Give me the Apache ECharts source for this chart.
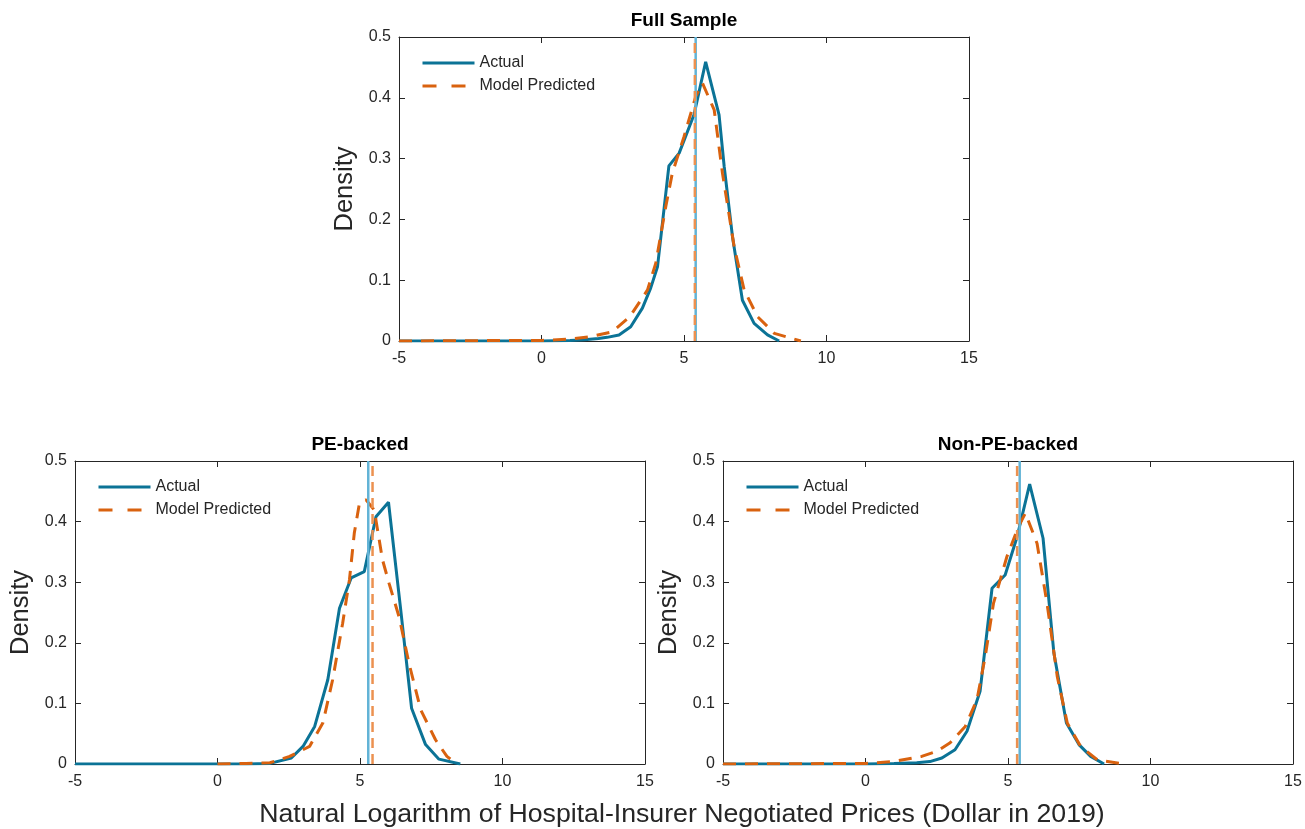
<html lang="en">
<head>
    <meta charset="UTF-8">
    <title>Density of negotiated prices</title>
    <script src="https://cdn.jsdelivr.net/npm/echarts@6/dist/echarts.min.js"></script>
    <style>
        body { margin: 0; background: #ffffff; }
        #container { width: 1305px; height: 829px; }
    </style>
</head>
<body>
<div id="container"></div>
<script>
    // ---- data ----
    var xTicks = [-5, 0, 5, 10, 15];
    var panelTitles = ['Full Sample', 'PE-backed', 'Non-PE-backed'];

    // Full sample
    var fullActualX = [-5, 0, 1.0, 1.5, 2.0, 2.3, 2.72, 3.13, 3.54, 3.83, 4.07, 4.47, 4.83, 5.35, 5.76, 6.23, 6.41, 6.70, 7.05, 7.46, 7.93, 8.34];
    var fullActualY = [0, 0, 0.001, 0.002, 0.004, 0.006, 0.010, 0.0235, 0.054, 0.087, 0.122, 0.288, 0.309, 0.372, 0.459, 0.372, 0.287, 0.172, 0.067, 0.029, 0.010, 0];
    var fullPredX = [-5, 0, 1.0, 1.7, 2.48, 3.1, 3.72, 4.01, 4.36, 4.59, 5.0, 5.41, 5.65, 6.06, 6.35, 6.76, 7.11, 7.58, 8.17, 9.1];
    var fullPredY = [0, 0.001, 0.003, 0.007, 0.015, 0.04, 0.084, 0.128, 0.221, 0.276, 0.336, 0.402, 0.424, 0.38, 0.276, 0.155, 0.084, 0.04, 0.0126, 0];
    var fullMeans = [5.41, 5.38];   // actual, predicted

    // PE-backed
    var peActualX = [-5, 0, 1.0, 1.84, 2.59, 3.0, 3.41, 3.87, 4.28, 4.69, 5.15, 5.56, 6.0, 6.43, 6.81, 7.30, 7.77, 8.52];
    var peActualY = [0, 0, 0, 0.001, 0.0099, 0.029, 0.062, 0.139, 0.257, 0.307, 0.3175, 0.408, 0.432, 0.254, 0.092, 0.032, 0.008, 0];
    var pePredX = [0, 1.0, 1.84, 2.53, 3.23, 3.70, 4.04, 4.39, 4.63, 4.80, 4.98, 5.21, 5.50, 5.79, 6.02, 6.37, 6.72, 7.13, 7.65, 8.05, 8.40];
    var pePredY = [0, 0.001, 0.002, 0.0125, 0.029, 0.068, 0.139, 0.232, 0.304, 0.381, 0.43, 0.436, 0.419, 0.337, 0.298, 0.243, 0.166, 0.0895, 0.04, 0.0125, 0];
    var peMeans = [5.29, 5.44];

    // Non-PE-backed
    var nonPeActualX = [-5, 0, 1.0, 1.8, 2.26, 2.68, 3.14, 3.56, 4.02, 4.44, 4.90, 5.32, 5.76, 6.23, 6.61, 7.05, 7.49, 7.90, 8.37];
    var nonPeActualY = [0, 0, 0.001, 0.002, 0.004, 0.0099, 0.0236, 0.054, 0.12, 0.29, 0.312, 0.375, 0.462, 0.3725, 0.183, 0.0675, 0.032, 0.0125, 0];
    var nonPePredX = [-5, 0, 0.97, 1.97, 2.5, 2.97, 3.5, 3.91, 4.2, 4.49, 4.96, 5.37, 5.61, 6.02, 6.37, 6.73, 7.08, 7.55, 8.13, 9.07];
    var nonPePredY = [0, 0.001, 0.004, 0.0125, 0.021, 0.035, 0.062, 0.106, 0.177, 0.265, 0.342, 0.392, 0.414, 0.364, 0.265, 0.144, 0.0675, 0.029, 0.007, 0];
    var nonPeMeans = [5.41, 5.32];

    var textColor = '#262626';
    var blue = '#0B7396';
    var orange = '#D9620F';
    var lightBlue = '#62B3D6';
    var lightOrange = '#EC9150';
    var font = '"Liberation Sans", Arial, Helvetica, sans-serif';

    function zip(xs, ys) {
        var out = [];
        for (var i = 0; i < xs.length; i++) {
            out.push([xs[i], ys[i]]);
        }
        return out;
    }

    // grid boxes (px)
    var grids = [
        { left: 399, top: 37, width: 570, height: 304 },
        { left: 75, top: 461, width: 570, height: 303 },
        { left: 723, top: 461, width: 570, height: 303 }
    ];
    var panels = [
        { actual: zip(fullActualX, fullActualY), pred: zip(fullPredX, fullPredY), means: fullMeans },
        { actual: zip(peActualX, peActualY), pred: zip(pePredX, pePredY), means: peMeans },
        { actual: zip(nonPeActualX, nonPeActualY), pred: zip(nonPePredX, nonPePredY), means: nonPeMeans }
    ];

    var chart = echarts.init(document.getElementById('container'));

    var xAxes = [], yAxes = [], series = [], titles = [], legends = [];
    var axisLine = { show: true, onZero: false, lineStyle: { color: textColor, width: 1 } };
    var axisTick = { show: true, inside: true, length: 6, lineStyle: { color: textColor, width: 1 } };

    grids.forEach(function (g, i) {
        xAxes.push({
            gridIndex: i, type: 'value', position: 'bottom',
            min: xTicks[0], max: xTicks[xTicks.length - 1], interval: 5,
            axisLine: axisLine, axisTick: axisTick, splitLine: { show: false },
            axisLabel: { color: textColor, fontSize: 16, fontFamily: font, margin: 10 }
        });
        xAxes.push({
            gridIndex: i, type: 'value', position: 'top',
            min: xTicks[0], max: xTicks[xTicks.length - 1], interval: 5,
            axisLine: axisLine, axisTick: axisTick, splitLine: { show: false },
            axisLabel: { show: false }
        });
        yAxes.push({
            gridIndex: i, type: 'value', position: 'left',
            min: 0, max: 0.5, interval: 0.1,
            name: 'Density', nameLocation: 'middle', nameGap: 41,
            nameTextStyle: { color: textColor, fontSize: 25.5, fontFamily: font },
            axisLine: axisLine, axisTick: axisTick, splitLine: { show: false },
            axisLabel: { color: textColor, fontSize: 16, fontFamily: font, margin: 8 }
        });
        yAxes.push({
            gridIndex: i, type: 'value', position: 'right',
            min: 0, max: 0.5, interval: 0.1,
            axisLine: axisLine, axisTick: axisTick, splitLine: { show: false },
            axisLabel: { show: false }
        });

        titles.push({
            text: panelTitles[i],
            left: g.left + g.width / 2, top: g.top - 26, textAlign: 'center', padding: 0,
            textStyle: { color: '#000', fontSize: 19, fontWeight: 'bold', fontFamily: font }
        });

        legends.push({
            orient: 'vertical', left: g.left + 22, top: g.top + 18, padding: 0,
            itemWidth: 52, itemHeight: 14, itemGap: 7,
            itemStyle: { opacity: 0 },
            lineStyle: { width: 3 },
            textStyle: { color: textColor, fontSize: 16, fontFamily: font },
            data: [
                { name: 'Actual' },
                { name: 'Model Predicted', lineStyle: { width: 3, type: [14, 15] } }
            ]
        });

        var p = panels[i];
        series.push({
            name: 'Actual', type: 'line', xAxisIndex: 2 * i, yAxisIndex: 2 * i,
            data: p.actual, symbol: 'none', smooth: false,
            lineStyle: { color: blue, width: 3 }, itemStyle: { color: blue }
        });
        series.push({
            name: 'Model Predicted', type: 'line', xAxisIndex: 2 * i, yAxisIndex: 2 * i,
            data: p.pred, symbol: 'none', smooth: false,
            lineStyle: { color: orange, width: 3, type: [13, 9] }, itemStyle: { color: orange }
        });
        series.push({
            name: 'Actual mean', type: 'line', xAxisIndex: 2 * i, yAxisIndex: 2 * i,
            data: [[p.means[0], 0], [p.means[0], 0.5]], symbol: 'none', silent: true,
            lineStyle: { color: lightBlue, width: 2.5 }
        });
        series.push({
            name: 'Predicted mean', type: 'line', xAxisIndex: 2 * i, yAxisIndex: 2 * i,
            data: [[p.means[1], 0], [p.means[1], 0.5]], symbol: 'none', silent: true,
            lineStyle: { color: lightOrange, width: 2.5, type: [10, 6] }
        });
    });

    titles.push({
        text: 'Natural Logarithm of Hospital-Insurer Negotiated Prices (Dollar in 2019)',
        left: 682, top: 801, textAlign: 'center', padding: 0,
        textStyle: { color: textColor, fontSize: 26.7, fontWeight: 'normal', fontFamily: font }
    });

    var option = {
        backgroundColor: '#ffffff',
        animation: false,
        title: titles,
        legend: legends,
        grid: grids,
        xAxis: xAxes,
        yAxis: yAxes,
        series: series
    };
    chart.setOption(option);
</script>
</body>
</html>
